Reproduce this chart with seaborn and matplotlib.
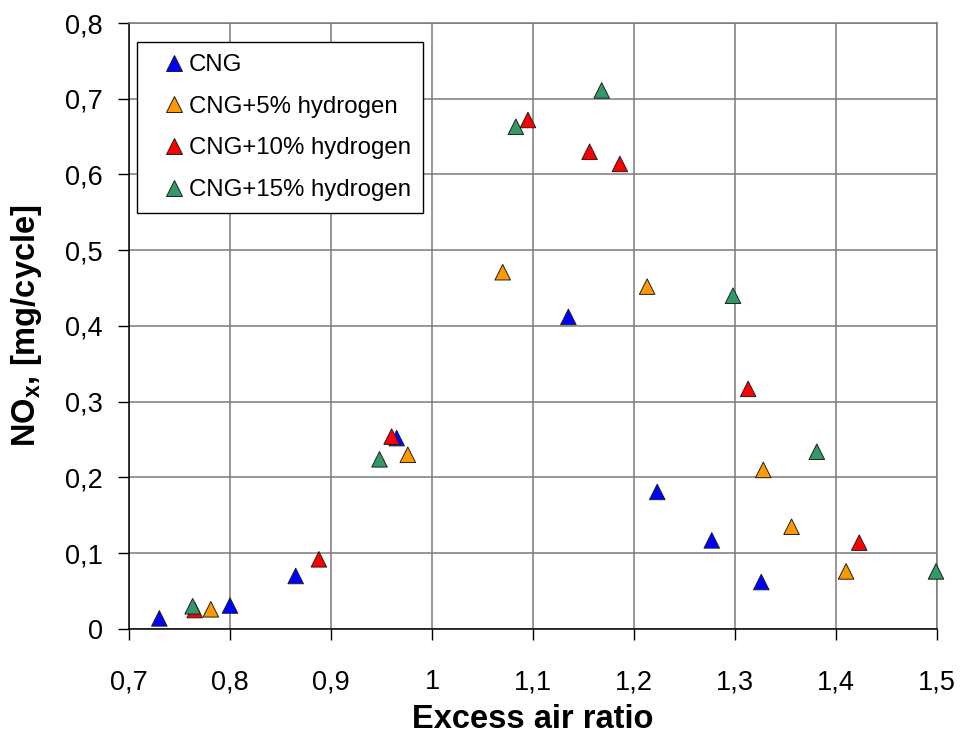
import numpy as np
import pandas as pd
import matplotlib
matplotlib.use("Agg")
import matplotlib.pyplot as plt
from matplotlib.ticker import FuncFormatter, MultipleLocator
import seaborn as sns

# NOx emissions versus excess air ratio for CNG and CNG/hydrogen blends
series_names = ["CNG", "CNG+5% hydrogen", "CNG+10% hydrogen", "CNG+15% hydrogen"]

cng_lambda = [0.730, 0.800, 0.865, 0.965, 1.135, 1.223, 1.277, 1.326]
cng_nox = [0.014, 0.031, 0.070, 0.252, 0.412, 0.181, 0.117, 0.062]

h5_lambda = [0.781, 0.976, 1.070, 1.213, 1.328, 1.356, 1.410]
h5_nox = [0.026, 0.230, 0.471, 0.452, 0.210, 0.135, 0.076]

h10_lambda = [0.765, 0.888, 0.960, 1.095, 1.156, 1.186, 1.313, 1.423]
h10_nox = [0.025, 0.092, 0.254, 0.672, 0.630, 0.614, 0.317, 0.114]

h15_lambda = [0.763, 0.948, 1.083, 1.168, 1.298, 1.381, 1.499]
h15_nox = [0.030, 0.224, 0.663, 0.711, 0.440, 0.234, 0.076]

colors = ["#0000FF", "#FF9900", "#FF0000", "#339966"]

frames = []
for name, xs, ys in zip(series_names,
                        [cng_lambda, h5_lambda, h10_lambda, h15_lambda],
                        [cng_nox, h5_nox, h10_nox, h15_nox]):
    frames.append(pd.DataFrame({"lambda": xs, "nox": ys, "fuel": name}))
df = pd.concat(frames, ignore_index=True)

sns.set_style("white")
plt.rcParams["font.family"] = ["Liberation Sans", "DejaVu Sans"]
plt.rcParams["mathtext.fontset"] = "custom"
plt.rcParams["mathtext.rm"] = "Liberation Sans"
plt.rcParams["mathtext.bf"] = "Liberation Sans:bold"
plt.rcParams["text.color"] = "black"
plt.rcParams["axes.labelcolor"] = "black"
plt.rcParams["xtick.color"] = "black"
plt.rcParams["ytick.color"] = "black"

fig = plt.figure(figsize=(9.63, 7.42), dpi=100)
ax = fig.add_axes([0.134, 0.1523, 0.839, 0.8167])

grid_color = "#7a7a7a"

sns.scatterplot(data=df, x="lambda", y="nox", hue="fuel", hue_order=series_names,
                palette=colors, marker="^", s=125, edgecolor="#202020",
                linewidth=0.7, clip_on=False, zorder=3, ax=ax)

ax.set_xlim(0.7, 1.5)
ax.set_ylim(0, 0.8)
ax.xaxis.set_major_locator(MultipleLocator(0.1))
ax.yaxis.set_major_locator(MultipleLocator(0.1))

comma_fmt = FuncFormatter(lambda v, pos: f"{round(v, 2):g}".replace(".", ","))
ax.xaxis.set_major_formatter(comma_fmt)
ax.yaxis.set_major_formatter(comma_fmt)

ax.grid(True, color=grid_color, linewidth=1.1)
ax.set_axisbelow(True)

for side in ["left", "bottom"]:
    ax.spines[side].set_color("black")
    ax.spines[side].set_linewidth(1.1)
for side in ["top", "right"]:
    ax.spines[side].set_color(grid_color)
    ax.spines[side].set_linewidth(1.1)

ax.tick_params(axis="both", which="major", direction="out", length=8,
               width=1, color="black", labelcolor="black", labelsize=19.5,
               left=True, bottom=True)
ax.tick_params(axis="x", pad=21)
ax.tick_params(axis="y", pad=11)

ax.set_xlabel("Excess air ratio", fontsize=23.5, fontweight="bold", labelpad=6,
              color="black")
ax.set_ylabel(r"NO$_\mathbf{x}$, [mg/cycle]", fontsize=23.5, fontweight="bold",
              color="black")
ax.yaxis.set_label_coords(-0.105, 0.5)

handles, labels = ax.get_legend_handles_labels()
leg = ax.legend(handles, labels, loc="upper left", bbox_to_anchor=(0.0099, 0.9686),
                borderaxespad=0, frameon=True, fancybox=False, framealpha=1,
                edgecolor="black", fontsize=17.3, borderpad=0.5, labelspacing=0.82,
                handlelength=2.1, handletextpad=-0.45, markerscale=1.0)
leg.get_frame().set_linewidth(1.0)
for t in leg.get_texts():
    t.set_color("black")

fig.savefig("out.png", dpi=100)
